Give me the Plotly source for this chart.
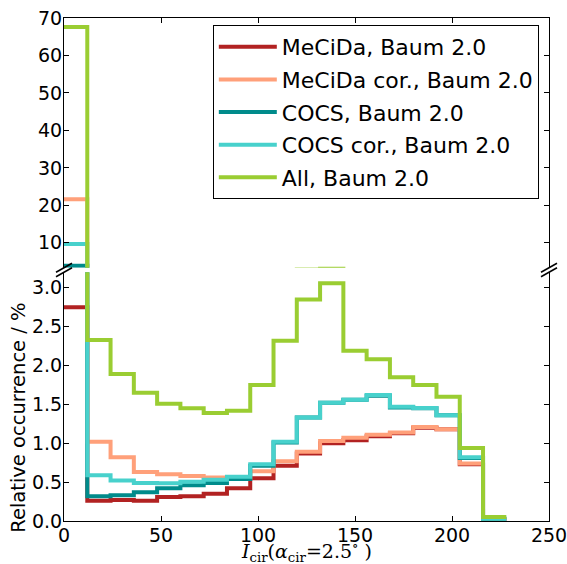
import plotly.graph_objects as go

# Histogram bin edges of the cirrus index (bin width 12)
bin_edges = [0, 12, 24, 36, 48, 60, 72, 84, 96, 108, 120, 132, 144, 156, 168, 180, 192, 204, 216, 228]

# Relative occurrence per bin, in %
mecida = [2.75, 0.26, 0.27, 0.26, 0.31, 0.32, 0.35, 0.42, 0.55, 0.71, 0.87, 1.00, 1.04, 1.09, 1.13, 1.20, 1.18, 0.73, 0.02]
mecida_cor = [21.6, 1.02, 0.82, 0.63, 0.60, 0.58, 0.56, 0.55, 0.64, 0.77, 0.89, 1.03, 1.07, 1.11, 1.14, 1.21, 1.18, 0.74, 0.02]
cocs = [3.9, 0.32, 0.33, 0.37, 0.42, 0.46, 0.49, 0.54, 0.71, 1.01, 1.33, 1.52, 1.56, 1.61, 1.46, 1.45, 1.36, 0.81, 0.03]
cocs_cor = [9.7, 0.59, 0.52, 0.49, 0.485, 0.505, 0.53, 0.57, 0.73, 1.02, 1.33, 1.52, 1.56, 1.62, 1.47, 1.455, 1.36, 0.82, 0.03]
all_data = [67.6, 2.33, 1.89, 1.65, 1.51, 1.45, 1.39, 1.42, 1.75, 2.32, 2.85, 3.06, 2.19, 2.08, 1.85, 1.75, 1.60, 0.94, 0.05]

series_names = ["MeCiDa, Baum 2.0", "MeCiDa cor., Baum 2.0", "COCS, Baum 2.0",
                "COCS cor., Baum 2.0", "All, Baum 2.0"]
series_values = [mecida, mecida_cor, cocs, cocs_cor, all_data]
series_colors = ["#b22222", "#ffa07a", "#008b8b", "#48d1cc", "#9acd32"]

x_ticks = [0, 50, 100, 150, 200, 250]
low_ticks = [0.0, 0.5, 1.0, 1.5, 2.0, 2.5, 3.0]
high_ticks = [10, 20, 30, 40, 50, 60, 70]

LOW_RANGE = [0, 3.2]
HIGH_RANGE = [3.35, 70]
LOW_DOMAIN = [0, 0.4945]
HIGH_DOMAIN = [0.5035, 1]

FONT = "DejaVu Sans"
M_L, M_R, M_T, M_B = 64, 18, 18, 43

fig = go.Figure()
for name, vals, color in zip(series_names, series_values, series_colors):
    y_step = vals + [vals[-1]]
    for xa, ya, show in (("x", "y", True), ("x2", "y2", False)):
        fig.add_trace(go.Scatter(
            x=bin_edges, y=y_step, mode="lines",
            line=dict(shape="hv", color=color, width=4),
            name=name, legendgroup=name, showlegend=show,
            xaxis=xa, yaxis=ya, hoverinfo="skip",
        ))

axis_common = dict(showgrid=False, zeroline=False, showline=True, linecolor="black",
                   linewidth=1, ticks="inside", ticklen=5, tickcolor="black", tickwidth=1,
                   ticklabeloverflow="allow", automargin=False,
                   tickfont=dict(family=FONT, size=19, color="black"))

fig.update_layout(
    width=567, height=564,
    margin=dict(l=M_L, r=M_R, t=M_T, b=M_B, autoexpand=False),
    paper_bgcolor="white", plot_bgcolor="white",
    xaxis=dict(domain=[0, 1], range=[0, 250], anchor="y", tickvals=x_ticks,
               ticktext=[str(v) for v in x_ticks], ticklabelstandoff=-3, **axis_common),
    xaxis2=dict(domain=[0, 1], range=[0, 250], anchor="y2", side="top", matches="x",
                tickvals=x_ticks, showticklabels=False, **axis_common),
    yaxis=dict(domain=LOW_DOMAIN, range=LOW_RANGE, anchor="x", mirror="ticks",
               tickvals=low_ticks, ticktext=[f"{v:.1f}" for v in low_ticks],
               ticklabelstandoff=-3, **axis_common),
    yaxis2=dict(domain=HIGH_DOMAIN, range=HIGH_RANGE, anchor="x2", mirror="ticks",
                tickvals=high_ticks, ticktext=[str(v) for v in high_ticks],
                ticklabelstandoff=-3, **axis_common),
    legend=dict(x=0.979, y=0.986, xanchor="right", yanchor="top",
                bgcolor="white", bordercolor="black", borderwidth=1,
                font=dict(family=FONT, size=22, color="black"),
                tracegroupgap=1, itemwidth=58),
    showlegend=True,
)

# Axis labels
fig.add_annotation(text="Relative occurrence / %", xref="paper", yref="paper",
                   x=-0.094, y=0.206, xanchor="center", yanchor="middle",
                   textangle=-90, showarrow=False,
                   font=dict(family=FONT, size=19.5, color="black"))
fig.add_annotation(text="<i>I</i><sub>cir</sub>(<i>α</i><sub>cir</sub>=2.5<sup>∘</sup> )",
                   xref="paper", yref="paper", x=0.5, y=-0.061,
                   xanchor="center", yanchor="middle", showarrow=False,
                   font=dict(family="DejaVu Serif", size=19, color="black"))

# Diagonal break marks on both sides of the split y-axis
plot_w = 567 - M_L - M_R
plot_h = 564 - M_T - M_B
dx = 8 / plot_w
dy = 4.5 / plot_h
for xc in (0, 1):
    for yc in (HIGH_DOMAIN[0], LOW_DOMAIN[1]):
        fig.add_shape(type="line", xref="paper", yref="paper",
                      x0=xc - dx, y0=yc - dy, x1=xc + dx, y1=yc + dy,
                      line=dict(color="black", width=1.5))

fig.write_html("out.html")
